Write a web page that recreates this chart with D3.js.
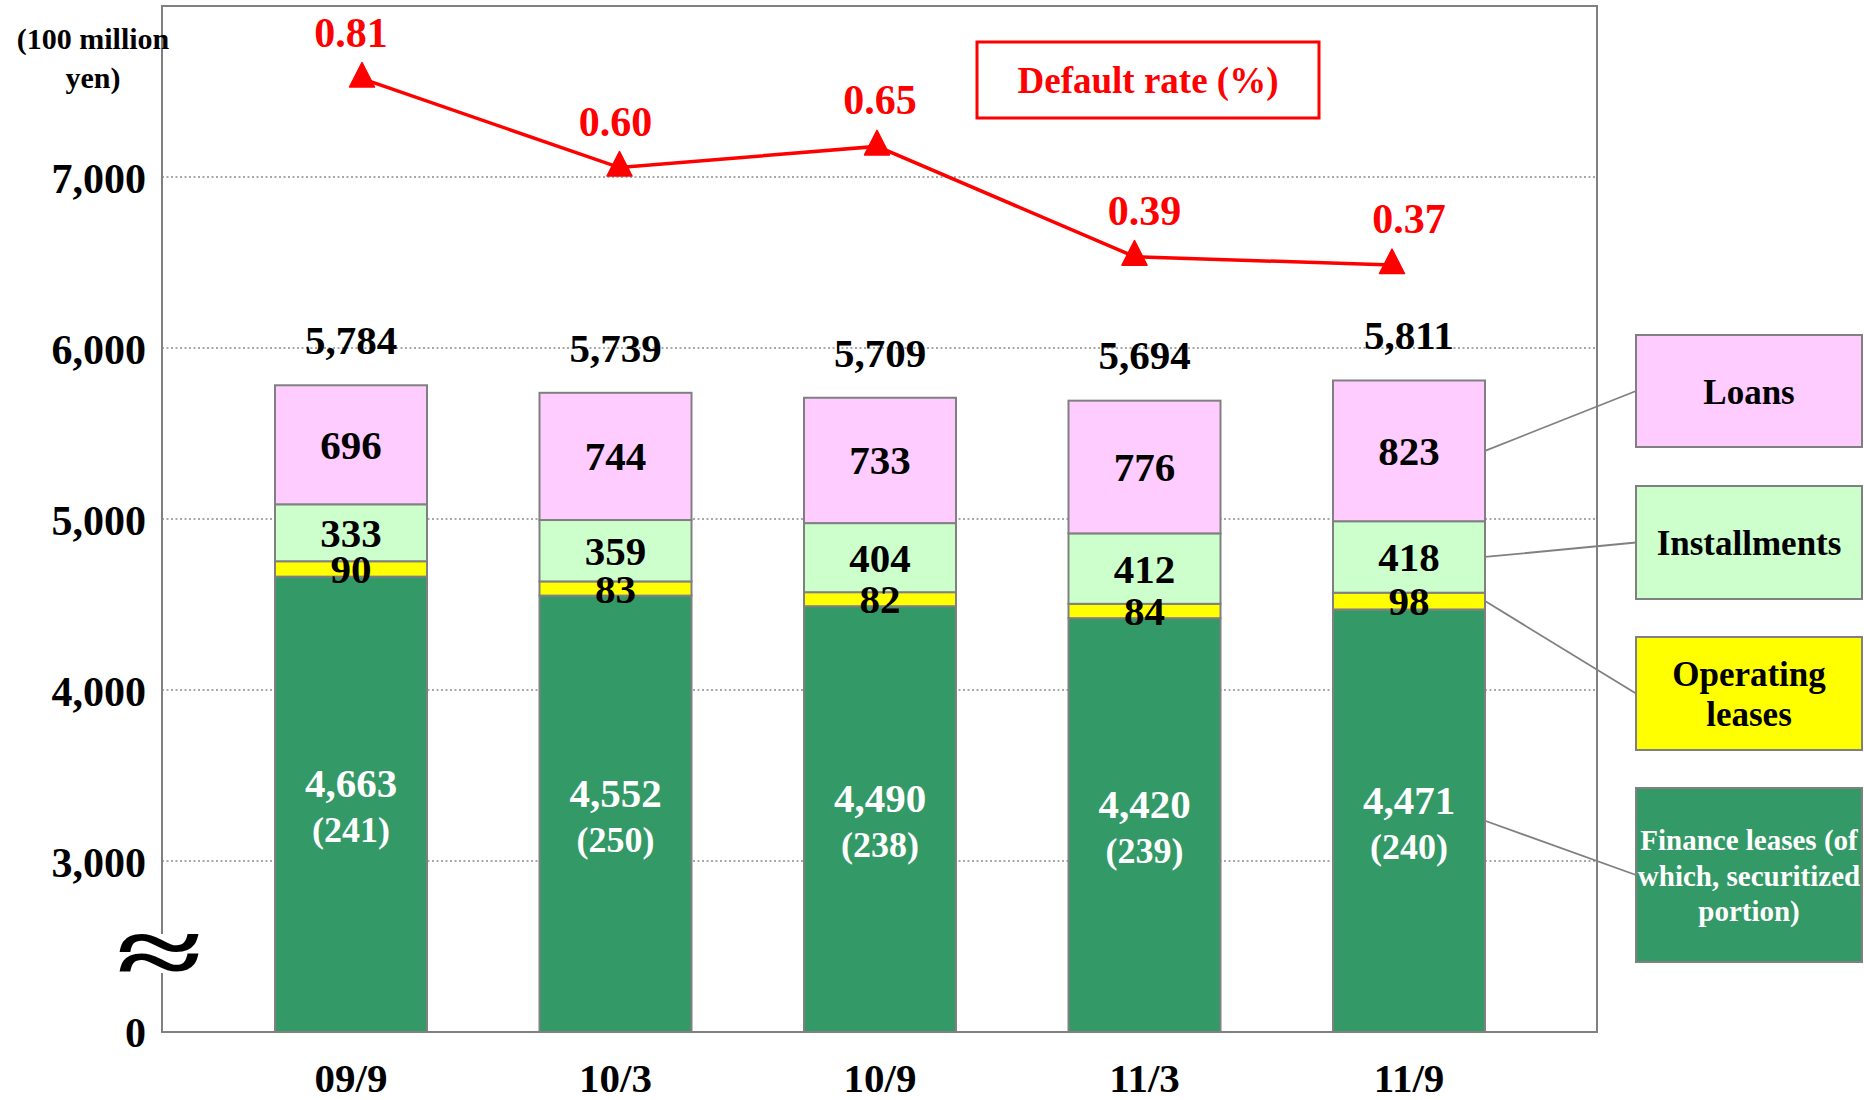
<!DOCTYPE html>
<html><head><meta charset="utf-8">
<script src="https://cdn.jsdelivr.net/npm/d3@7"></script>
<style>
body{margin:0;background:#fff}
svg{display:block}
text{font-family:"Liberation Serif","Times New Roman",serif;font-weight:bold}
</style>
</head><body>
<svg id="chart" width="1864" height="1100"></svg>
<script>
// ---- data ----
const categories = ["09/9", "10/3", "10/9", "11/3", "11/9"];
const financeLeases = [4663, 4552, 4490, 4420, 4471];
const securitized = [241, 250, 238, 239, 240];
const operatingLeases = [90, 83, 82, 84, 98];
const installments = [333, 359, 404, 412, 418];
const loans = [696, 744, 733, 776, 823];
const totals = [5784, 5739, 5709, 5694, 5811];
const defaultRate = [0.81, 0.60, 0.65, 0.39, 0.37];
const yTicks = [3000, 4000, 5000, 6000, 7000];
const yBreakLabel = "0";
const seriesKeys = ["finance", "operating", "installments", "loans"];
const seriesColors = ["#339966", "#FFFF00", "#CCFFCC", "#FFCCFF"];
const legendLabels = [
  ["Loans"],
  ["Installments"],
  ["Operating", "leases"],
  ["Finance leases (of", "which, securitized", "portion)"]
];
const legendOrder = ["loans", "installments", "operating", "finance"];
const unitLabel = ["(100 million", "yen)"];
const lineLegend = "Default rate (%)";

// ---- layout ----
const svg = d3.select("#chart");
const plot = {left: 162, right: 1597, top: 6, bottom: 1032};
const fmt = d3.format(",");
const grey = "#808080";

const table = categories.map((c, i) => ({
  cat: c, finance: financeLeases[i], operating: operatingLeases[i],
  installments: installments[i], loans: loans[i], total: totals[i],
  sec: securitized[i], rate: defaultRate[i]
}));

const x = d3.scalePoint().domain(categories).range([351, 1409]);
const xLine = d3.scalePoint().domain(categories).range([362, 1392]);
const barW = 152;
const y = d3.scaleLinear().domain([2000, 8000]).range([plot.bottom, plot.top]).clamp(true);
const yR = d3.scaleLinear().domain([0, 1]).range([422, -2]);

const stack = d3.stack().keys(seriesKeys)(table);

// gridlines
svg.append("g").selectAll("line").data(yTicks).join("line")
  .attr("x1", plot.left).attr("x2", plot.right)
  .attr("y1", d => y(d)).attr("y2", d => y(d))
  .attr("stroke", "#8c8c8c").attr("stroke-width", 1.3)
  .attr("stroke-dasharray", "2,2.5");

// frame
svg.append("rect").attr("x", plot.left).attr("y", plot.top)
  .attr("width", plot.right - plot.left).attr("height", plot.bottom - plot.top)
  .attr("fill", "none").attr("stroke", grey).attr("stroke-width", 2);

// y axis labels
const yAxis = d3.axisLeft(y).tickValues(yTicks).tickSize(0).tickPadding(16)
  .tickFormat(d => fmt(d));
const yg = svg.append("g").attr("transform", `translate(${plot.left},0)`).call(yAxis);
yg.select(".domain").remove();
yg.selectAll("text").attr("font-size", 42).attr("fill", "#000")
  .attr("font-family", '"Liberation Serif","Times New Roman",serif').attr("font-weight", "bold")
  .attr("dy", "0.36em");
svg.append("text").attr("x", plot.left - 16).attr("y", y(2000) + 15)
  .attr("text-anchor", "end").attr("font-size", 42).text(yBreakLabel);

// unit label
svg.append("text").attr("text-anchor", "middle").attr("font-size", 30)
  .selectAll("tspan").data(unitLabel).join("tspan")
  .attr("x", 93).attr("y", (d, i) => 49 + i * 39).text(d => d);

// axis break symbol
svg.append("rect").attr("x", 150).attr("y", 934).attr("width", 26).attr("height", 39).attr("fill", "#fff");
svg.append("text").attr("transform", "translate(159,953) scale(1.3,0.8)")
  .attr("y", 40).attr("text-anchor", "middle")
  .attr("font-size", 120).text("≈");

// bars
const layers = svg.append("g").selectAll("g").data(stack).join("g")
  .attr("fill", (d, i) => seriesColors[i]);
layers.selectAll("rect").data(d => d).join("rect")
  .attr("x", d => x(d.data.cat) - barW / 2).attr("width", barW)
  .attr("y", d => y(d[1])).attr("height", d => y(d[0]) - y(d[1]))
  .attr("stroke", grey).attr("stroke-width", 2);

// segment labels
const segCenter = d => (y(d[0]) + y(d[1])) / 2;
stack.forEach((layer, li) => {
  const key = layer.key;
  const g = svg.append("g").attr("text-anchor", "middle");
  if (key === "finance") {
    g.selectAll("text.v").data(layer).join("text").attr("class", "v")
      .attr("x", d => x(d.data.cat)).attr("y", d => segCenter(d) - 7)
      .attr("font-size", 41).attr("fill", "#fff").text(d => fmt(d.data.finance));
    g.selectAll("text.s").data(layer).join("text").attr("class", "s")
      .attr("x", d => x(d.data.cat)).attr("y", d => segCenter(d) + 38)
      .attr("font-size", 36).attr("fill", "#fff").text(d => `(${d.data.sec})`);
  } else {
    g.selectAll("text").data(layer).join("text")
      .attr("x", d => x(d.data.cat)).attr("y", d => segCenter(d) + 14)
      .attr("font-size", 41).attr("fill", "#000").text(d => fmt(d.data[key]));
  }
});

// total labels
svg.append("g").attr("text-anchor", "middle").selectAll("text").data(table).join("text")
  .attr("x", d => x(d.cat)).attr("y", d => y(d.total) - 31)
  .attr("font-size", 41).attr("fill", "#000").text(d => fmt(d.total));

// category labels
svg.append("g").attr("text-anchor", "middle").selectAll("text").data(categories).join("text")
  .attr("x", d => x(d)).attr("y", 1092).attr("font-size", 41).text(d => d);

// default rate line
const red = "#FF0000";
svg.append("path").datum(table)
  .attr("d", d3.line().x(d => xLine(d.cat)).y(d => yR(d.rate)))
  .attr("fill", "none").attr("stroke", red).attr("stroke-width", 3.5);
svg.append("g").selectAll("path").data(table).join("path")
  .attr("transform", d => `translate(${xLine(d.cat)},${yR(d.rate)})`)
  .attr("d", "M0,-16L12.5,8.5L-12.5,8.5Z").attr("fill", red)
  .attr("stroke", red).attr("stroke-width", 1.5).attr("stroke-linejoin", "round");
svg.append("g").attr("text-anchor", "middle").selectAll("text").data(table).join("text")
  .attr("x", d => x(d.cat)).attr("y", d => yR(d.rate) - 32)
  .attr("font-size", 42).attr("fill", red).text(d => d.rate.toFixed(2));

// line legend box
svg.append("rect").attr("x", 977).attr("y", 42).attr("width", 342).attr("height", 76)
  .attr("fill", "#fff").attr("stroke", red).attr("stroke-width", 3);
svg.append("text").attr("x", 1148).attr("y", 93).attr("text-anchor", "middle")
  .attr("font-size", 37).attr("fill", red).text(lineLegend);

// legend boxes
const legendBoxes = [
  {top: 335, bottom: 447, size: 35, lh: 40, off: 13},
  {top: 486, bottom: 599, size: 35, lh: 40, off: 12},
  {top: 637, bottom: 750, size: 35, lh: 40, off: 12},
  {top: 788, bottom: 962, size: 29, lh: 35.7, off: 10.7}
];
const lastCat = categories[categories.length - 1];
const legX = 1636, legW = 226;
legendOrder.forEach((key, i) => {
  const b = legendBoxes[i];
  const si = seriesKeys.indexOf(key);
  const layer = stack[si];
  const last = layer[layer.length - 1];
  const cy = (b.top + b.bottom) / 2;
  // leader line
  svg.append("line").attr("x1", x(lastCat) + barW / 2).attr("y1", segCenter(last))
    .attr("x2", legX).attr("y2", cy).attr("stroke", grey).attr("stroke-width", 1.8);
  svg.append("rect").attr("x", legX).attr("y", b.top).attr("width", legW)
    .attr("height", b.bottom - b.top).attr("fill", seriesColors[si])
    .attr("stroke", grey).attr("stroke-width", 2);
  const lines = legendLabels[i];
  const n = lines.length;
  svg.append("text").attr("text-anchor", "middle").attr("font-size", b.size)
    .attr("fill", key === "finance" ? "#fff" : "#000")
    .selectAll("tspan").data(lines).join("tspan")
    .attr("x", legX + legW / 2)
    .attr("y", (d, j) => cy + b.off + (j - (n - 1) / 2) * b.lh).text(d => d);
});
</script>
</body></html>
